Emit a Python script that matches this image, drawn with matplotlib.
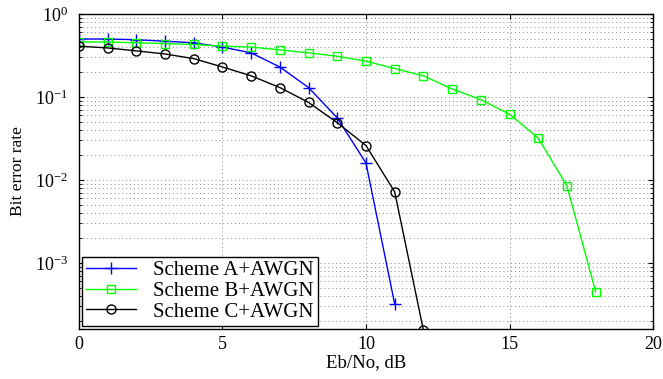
import matplotlib
matplotlib.use('Agg')
from matplotlib import pyplot as plt
from matplotlib.ticker import LogLocator, NullFormatter

plt.rcParams['font.family'] = ['Liberation Serif', 'DejaVu Serif']
plt.rcParams['mathtext.fontset'] = 'custom'
plt.rcParams['mathtext.rm'] = 'Liberation Serif'
plt.rcParams['mathtext.it'] = 'Liberation Serif:italic'

# Eb/No values (dB)
snr_a = [0, 1, 2, 3, 4, 5, 6, 7, 8, 9, 10, 11]
snr_b = [0, 1, 2, 3, 4, 5, 6, 7, 8, 9, 10, 11, 12, 13, 14, 15, 16, 17, 18]
snr_c = [0, 1, 2, 3, 4, 5, 6, 7, 8, 9, 10, 11, 12]

ber_a = [0.50, 0.50, 0.49, 0.47, 0.45, 0.40, 0.34, 0.23, 0.13, 0.056, 0.016, 3.2e-4]
ber_b = [0.46, 0.46, 0.45, 0.44, 0.43, 0.41, 0.40, 0.37, 0.34, 0.31, 0.27, 0.22,
         0.18, 0.125, 0.093, 0.062, 0.032, 0.0085, 4.5e-4]
ber_c = [0.41, 0.39, 0.36, 0.33, 0.29, 0.23, 0.18, 0.13, 0.086, 0.049, 0.026,
         0.0072, 1.55e-4]

labels = ['Scheme A+AWGN', 'Scheme B+AWGN', 'Scheme C+AWGN']

fig = plt.figure(figsize=(6.63, 3.79), dpi=100)
ax = fig.add_axes([0.119, 0.132, 0.866, 0.831])

ax.semilogy(snr_a, ber_a, color='#0000ff', marker='+', markersize=8,
            markeredgewidth=1.0, linewidth=1.0, label=labels[0])
ax.semilogy(snr_b, ber_b, color='#00ff00', marker='s', markersize=5.5,
            markerfacecolor='none', markeredgewidth=1.0, linewidth=1.0, label=labels[1])
ax.semilogy(snr_c, ber_c, color='black', marker='o', markersize=6.5,
            markerfacecolor='none', markeredgewidth=1.0, linewidth=1.0, label=labels[2])

ax.set_xlim(0, 20)
ax.set_ylim(1.6e-4, 1)
ax.set_xticks([0, 5, 10, 15, 20])
ax.yaxis.set_major_locator(LogLocator(base=10, numticks=10))
ax.yaxis.set_minor_locator(LogLocator(base=10, subs=range(2, 10), numticks=20))
ax.yaxis.set_minor_formatter(NullFormatter())

ax.grid(True, which='major', linestyle=(0, (1, 3)), color='#888888', linewidth=0.7)
ax.grid(True, which='minor', axis='y', linestyle=(0, (1, 3)), color='#888888', linewidth=0.7)
ax.tick_params(which='both', direction='in', top=True, right=True, labelsize=13)
ax.tick_params(axis='y', pad=8)
ax.tick_params(axis='x', pad=5)
for s in ax.spines.values():
    s.set_linewidth(1.0)

ax.set_xlabel('Eb/No, dB', fontsize=13.5, labelpad=1)
ax.set_ylabel('Bit error rate', fontsize=12.5, labelpad=6)

leg = ax.legend(loc='lower left', fontsize=15, frameon=True, fancybox=False,
                edgecolor='black', framealpha=1, borderpad=0.2, labelspacing=0.05,
                handlelength=2.4, borderaxespad=0.15)
leg.get_frame().set_linewidth(1.0)

fig.savefig('out.png', dpi=100)
